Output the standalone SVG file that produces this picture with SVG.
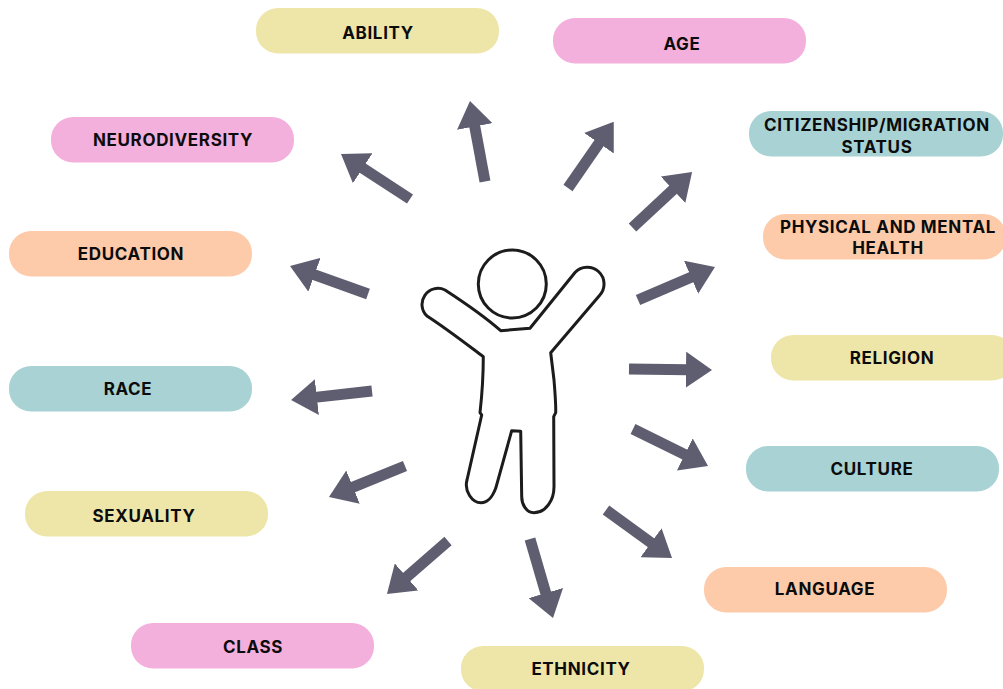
<svg xmlns="http://www.w3.org/2000/svg" width="1003" height="689" viewBox="0 0 1003 689">
<style>
.y{fill:#eee6a9}.p{fill:#f4b0dc}.t{fill:#a8d2d3}.o{fill:#fecbaa}
text{font-family:"Inter","Liberation Sans",sans-serif;font-weight:700;font-size:17px;fill:#0c0c0c;text-anchor:middle;letter-spacing:.65px}
.a{stroke:#5f5e70;stroke-width:11;fill:none;marker-end:url(#h)}
.f{fill:#fff;stroke:#1c1c1c;stroke-width:3;stroke-linejoin:round}
</style>
<defs><marker id="h" markerUnits="userSpaceOnUse" markerWidth="26" markerHeight="36" refX="2" refY="18" orient="auto"><path d="M0,0L26,18L0,36z" fill="#5f5e70"/></marker></defs>
<rect width="1003" height="689" fill="#fff"/>
<g id="connectors">
<line class="a" x1="485" y1="181.5" x2="474.4" y2="124.6"/>
<line class="a" x1="568" y1="188" x2="600.1" y2="141.6"/>
<line class="a" x1="632.5" y1="227.5" x2="674.5" y2="188.4"/>
<line class="a" x1="638" y1="300" x2="692.9" y2="276.5"/>
<line class="a" x1="629" y1="369" x2="688" y2="369.7"/>
<line class="a" x1="633" y1="429" x2="686.5" y2="455.4"/>
<line class="a" x1="606" y1="510" x2="652.6" y2="543.9"/>
<line class="a" x1="530" y1="539" x2="546.3" y2="595"/>
<line class="a" x1="448" y1="541" x2="405.1" y2="578.3"/>
<line class="a" x1="405" y1="466" x2="351.2" y2="487.9"/>
<line class="a" x1="372" y1="391" x2="314.9" y2="397.4"/>
<line class="a" x1="368" y1="294" x2="312.6" y2="274.1"/>
<line class="a" x1="410" y1="199" x2="361.1" y2="167.1"/>
</g>
<g id="person">
<path class="f" d="M500.7,330.7L530,328.3L575,272.5A16.5,16.5 0 0 1 599.5,295.5L550.7,352.7L554,380C555,392 556,404 555.7,412.7L553.7,416.7L554,486.7C554,500 546,512.7 534,512.7C526,512.7 521.7,504 521.7,496.7L520.7,431.3L511.7,430.7L495.7,488.3C492,498 488,502.7 481,502.7C472,502.7 464,491 467,480L481.7,415L480,412.7C482,395 483.3,375 483.3,356.7C465,343 447,329 427,316A16,16 0 0 1 445,290C465,303 484,316 500.7,330.7z"/>
<circle class="f" cx="512.3" cy="284" r="34"/>
</g>
<g id="ability"><rect class="y" x="256" y="8" width="243" height="45.5" rx="22"/><text x="378" y="39">ABILITY</text></g>
<g id="age"><rect class="p" x="553" y="18" width="253" height="45.5" rx="22"/><text x="682" y="50">AGE</text></g>
<g id="citizenship"><rect class="t" x="749" y="111" width="254" height="45.5" rx="22"/><text x="877" y="131">CITIZENSHIP/MIGRATION</text><text x="877" y="153">STATUS</text></g>
<g id="health"><rect class="o" x="763" y="214" width="243" height="45.5" rx="22"/><text x="888" y="233">PHYSICAL AND MENTAL</text><text x="888" y="254">HEALTH</text></g>
<g id="religion"><rect class="y" x="771" y="335" width="243" height="45.5" rx="22"/><text x="892" y="364">RELIGION</text></g>
<g id="culture"><rect class="t" x="746" y="446" width="253" height="45.5" rx="22"/><text x="872" y="475">CULTURE</text></g>
<g id="language"><rect class="o" x="704" y="567" width="243" height="45.5" rx="22"/><text x="825" y="595">LANGUAGE</text></g>
<g id="ethnicity"><rect class="y" x="461" y="646" width="243" height="45.5" rx="22"/><text x="581" y="675">ETHNICITY</text></g>
<g id="class"><rect class="p" x="131" y="623" width="243" height="45.5" rx="22"/><text x="253" y="653">CLASS</text></g>
<g id="sexuality"><rect class="y" x="25" y="491" width="243" height="45.5" rx="22"/><text x="144" y="522">SEXUALITY</text></g>
<g id="race"><rect class="t" x="9" y="366" width="243" height="45.5" rx="22"/><text x="128" y="395">RACE</text></g>
<g id="education"><rect class="o" x="9" y="231" width="243" height="45.5" rx="22"/><text x="131" y="260">EDUCATION</text></g>
<g id="neurodiversity"><rect class="p" x="51" y="117" width="243" height="45.5" rx="22"/><text x="173" y="146">NEURODIVERSITY</text></g>
</svg>
